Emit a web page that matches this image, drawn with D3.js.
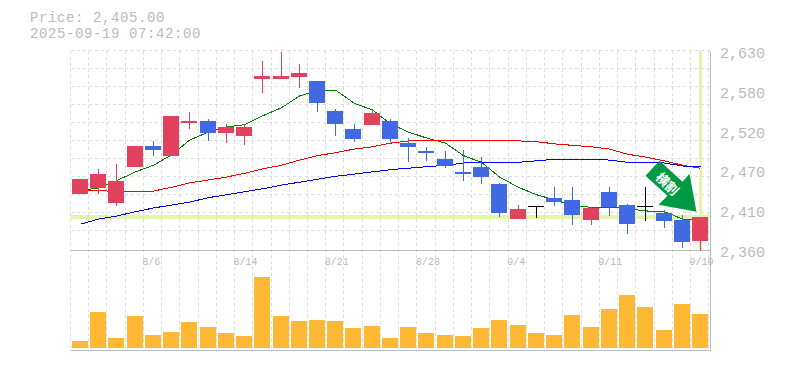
<!DOCTYPE html>
<html>
<head>
<meta charset="utf-8">
<script src="https://d3js.org/d3.v7.min.js"></script>
<style>
  html, body { margin: 0; padding: 0; background: #fff; }
  svg { display: block; }
  text { font-family: "Liberation Mono", "DejaVu Sans Mono", monospace; fill: #bbb; }
</style>
</head>
<body>
<svg id="chart" width="785" height="370"></svg>
<script>
// Daily values
var dates = ["7/31","8/1","8/4","8/5","8/6","8/7","8/8","8/12","8/13","8/14","8/15","8/18","8/19","8/20","8/21","8/22","8/25","8/26","8/27","8/28","8/29","9/1","9/2","9/3","9/4","9/5","9/8","9/9","9/10","9/11","9/12","9/16","9/17","9/18","9/19"];
var opens = [2436,2444,2424,2473,2501,2488,2532,2535,2519,2515,2592,2592,2595,2589,2549,2524,2530,2535,2505,2494,2483,2466,2473,2450,2402,2420,2431,2428,2401,2439,2421,2420,2410,2401,2372];
var highs = [2456,2470,2477,2501,2508,2542,2547,2538,2531,2531,2616,2629,2612,2589,2551,2531,2550,2538,2512,2500,2494,2496,2486,2451,2421,2420,2445,2445,2418,2445,2422,2445,2414,2407,2405];
var lows = [2436,2436,2420,2473,2488,2488,2524,2508,2505,2502,2573,2592,2580,2547,2515,2507,2530,2507,2479,2481,2471,2454,2450,2405,2402,2403,2420,2394,2394,2406,2382,2399,2390,2363,2359];
var closes = [2456,2463,2454,2501,2496,2542,2535,2519,2527,2527,2596,2596,2600,2559,2531,2511,2546,2511,2500,2492,2474,2463,2459,2410,2416,2420,2425,2407,2417,2418,2395,2420,2399,2371,2405];
var volumes = [7,36,10,32,13,16,26,21,15,12,71,32,27,28,27,20,22,10,21,15,13,12,20,28,23,15,13,33,21,39,53,41,18,44,34];
var maShort = [2441,2444,2454,2466,2475,2489,2509,2520,2527,2530,2542,2553,2569,2576,2577,2559,2550,2531,2520,2512,2505,2488,2479,2459,2445,2435,2428,2420,2418,2418,2416,2413,2412,2402,2401];
var maMid = [2441,2441,2439,2439,2440,2445,2451,2455,2459,2464,2470,2475,2482,2488,2492,2497,2500,2505,2508,2508,2508,2509,2509,2509,2508,2507,2504,2502,2500,2497,2490,2486,2481,2475,2471];
var maLong = [2395,2402,2406,2412,2417,2421,2425,2431,2435,2439,2443,2448,2452,2456,2460,2463,2466,2469,2471,2473,2475,2478,2479,2479,2479,2481,2483,2483,2483,2482,2479,2479,2478,2474,2473];
var priceTicks = [2630,2576,2522,2468,2414,2360];
var priceLabels = ["2,630","2,580","2,520","2,470","2,410","2,360"];
var dateTicks = ["8/6","8/14","8/21","8/28","9/4","9/11","9/19"];
var lastPrice = 2405;
var lastDate = "9/19";

var svg = d3.select("#chart");

//Setup dimensions
var dims = { left: 70.5, right: 710.5, top: 50.5, priceBottom: 250.5, volBase: 348, volBottom: 350.5 };
var colors = { up: "#e3425f", down: "#4169e1", flat: "#000", vol: "#ffb833", grid: "#ddd", axis: "#bbb", band: "#e4f5ab", arrow: "#009944" };

//Scales
var xScale = d3.scaleBand().domain(dates).range([71.3, 709.7]).paddingInner(0.12).paddingOuter(0.06);
var yScale = d3.scaleLinear().domain([2360, 2630]).range([250, 51]);
var volScale = d3.scaleLinear().domain([0, 71]).range([dims.volBase, dims.volBase - 71]);
var left = d => Math.floor(xScale(d));
var mid = d => Math.floor(xScale(d) + xScale.bandwidth() / 2) + 0.5;

//Grid
var gridG = svg.append("g").attr("stroke", colors.grid).attr("stroke-dasharray", "3,3").attr("shape-rendering", "crispEdges");
gridG.selectAll(".vgrid").data(dates).enter().append("line")
    .attr("x1", d => left(d) - 1.5).attr("x2", d => left(d) - 1.5)
    .attr("y1", dims.top).attr("y2", dims.volBottom);
gridG.append("line").attr("x1", 708.5).attr("x2", 708.5).attr("y1", dims.top).attr("y2", dims.volBottom);
gridG.selectAll(".hgrid").data(d3.range(0, 11)).enter().append("line")
    .attr("x1", dims.left).attr("x2", dims.right)
    .attr("y1", d => dims.top + d * 18).attr("y2", d => dims.top + d * 18);

//Last price and last date bands
svg.append("rect").attr("x", dims.left).attr("width", dims.right - dims.left)
    .attr("y", Math.round(yScale(lastPrice)) - 2).attr("height", 4).attr("fill", colors.band);
svg.append("rect").attr("x", mid(lastDate) - 1.5).attr("width", 3)
    .attr("y", dims.top).attr("height", dims.priceBottom - dims.top).attr("fill", colors.band);

//Axis lines
var axisG = svg.append("g").attr("stroke", colors.axis).attr("shape-rendering", "crispEdges");
axisG.append("line").attr("x1", dims.left).attr("x2", dims.right).attr("y1", dims.priceBottom).attr("y2", dims.priceBottom);
axisG.append("line").attr("x1", dims.left).attr("x2", dims.right).attr("y1", dims.volBottom).attr("y2", dims.volBottom);
axisG.append("line").attr("x1", dims.right).attr("x2", dims.right).attr("y1", dims.top).attr("y2", dims.volBottom);

//Moving averages go under the candles
var line = d3.line().x((d, i) => mid(dates[i])).y(d => yScale(d));
[[maShort, "#008000"], [maMid, "#ff0000"], [maLong, "#0000ff"]].forEach(function (s) {
    svg.append("path").datum(s[0]).attr("fill", "none").attr("stroke", s[1]).attr("stroke-width", 1)
        .attr("shape-rendering", "crispEdges").attr("d", line);
});

//Candles
var candleColor = i => closes[i] > opens[i] ? colors.up : closes[i] < opens[i] ? colors.down : colors.flat;
var candles = svg.append("g").attr("shape-rendering", "crispEdges");
dates.forEach(function (d, i) {
    candles.append("line").attr("x1", mid(d)).attr("x2", mid(d))
        .attr("y1", yScale(highs[i])).attr("y2", yScale(lows[i])).attr("stroke", candleColor(i));
    var top = Math.round(yScale(Math.max(opens[i], closes[i])));
    var bottom = Math.round(yScale(Math.min(opens[i], closes[i])));
    candles.append("rect").attr("x", left(d)).attr("width", 16)
        .attr("y", top).attr("height", Math.max(bottom - top, 1)).attr("fill", candleColor(i));
});

//Volume bars
svg.append("g").attr("shape-rendering", "crispEdges")
    .selectAll("rect").data(volumes).enter().append("rect")
    .attr("x", (d, i) => left(dates[i])).attr("width", 16)
    .attr("y", d => volScale(d)).attr("height", d => dims.volBase - volScale(d))
    .attr("fill", colors.vol);

//Signal arrow, anchored to the last candle
var arrowG = svg.append("g").attr("transform", `translate(${mid(lastDate)},${yScale(lastPrice)})`);
arrowG.append("path").attr("fill", colors.arrow)
    .attr("d", "M-41,-56 L-18,-35 L-11,-43 L-4,-5 L-42,-12 L-33,-21 L-55,-41 Z");
arrowG.append("text").attr("transform", "translate(-33,-33) rotate(45)")
    .attr("text-anchor", "middle").attr("y", 5).attr("font-size", 13).attr("font-weight", "bold")
    .style("fill", "#fff").style("font-family", '"Noto Sans CJK JP"').text("横割");

//Price labels
var priceAxis = d3.axisRight(yScale).tickValues(priceTicks).tickSize(0).tickPadding(0)
    .tickFormat((d, i) => priceLabels[i]);
var priceAxisG = svg.append("g").attr("transform", "translate(720,0)").call(priceAxis);
priceAxisG.select(".domain").remove();
priceAxisG.selectAll("text").attr("dy", "0.3em").attr("y", 2).style("font-size", "15px").style("font-family", '"Liberation Mono"');

//Date labels start just left of their candle
var dateAxis = d3.axisBottom(xScale).tickValues(dateTicks).tickSize(0).tickPadding(0);
var dateAxisG = svg.append("g").attr("transform", "translate(0,258)").call(dateAxis);
dateAxisG.select(".domain").remove();
dateAxisG.selectAll("text").attr("text-anchor", "start").attr("x", -xScale.bandwidth() / 2 - 3)
    .style("font-size", "10px").style("font-family", '"Liberation Mono"');

//Header
svg.append("text").attr("x", 30).attr("y", 22).attr("font-size", 14).attr("letter-spacing", 0.6).text("Price: 2,405.00");
svg.append("text").attr("x", 30).attr("y", 38).attr("font-size", 14).attr("letter-spacing", 0.6).text("2025-09-19 07:42:00");
</script>
</body>
</html>
